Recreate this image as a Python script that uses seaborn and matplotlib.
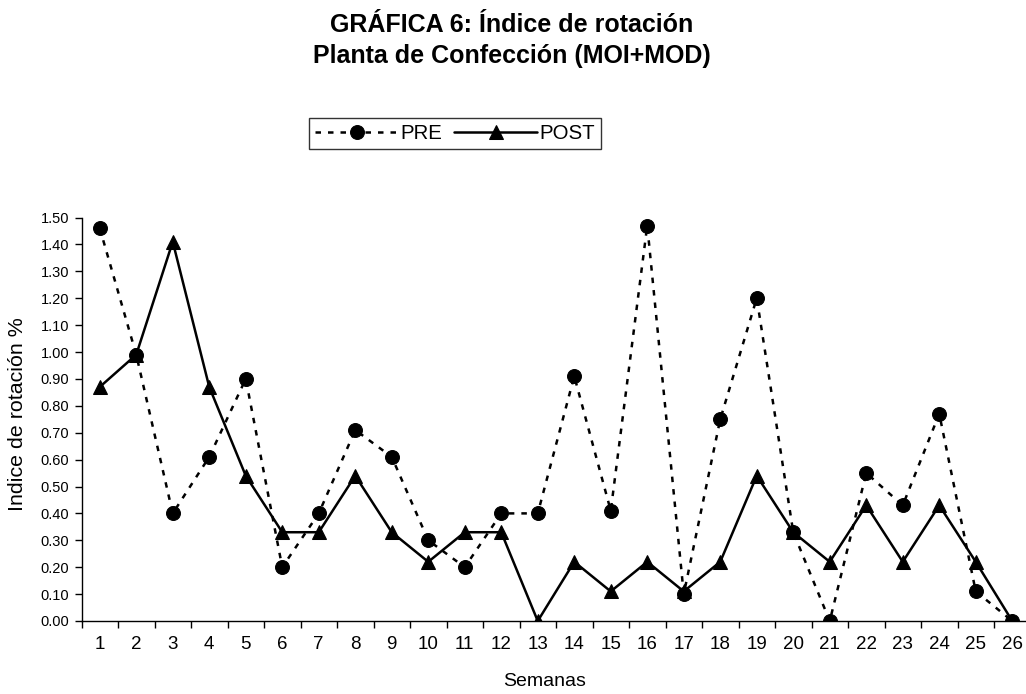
import matplotlib
matplotlib.use("Agg")
import matplotlib.pyplot as plt
import seaborn as sns
import pandas as pd
import numpy as np

semanas = list(range(1, 27))
pre = [1.46, 0.99, 0.40, 0.61, 0.90, 0.20, 0.40, 0.71, 0.61, 0.30, 0.20, 0.40, 0.40,
       0.91, 0.41, 1.47, 0.10, 0.75, 1.20, 0.33, 0.00, 0.55, 0.43, 0.77, 0.11, 0.00]
post = [0.87, 0.99, 1.41, 0.87, 0.54, 0.33, 0.33, 0.54, 0.33, 0.22, 0.33, 0.33, 0.00,
        0.22, 0.11, 0.22, 0.11, 0.22, 0.54, 0.33, 0.22, 0.43, 0.22, 0.43, 0.22, 0.00]
y_ticks = [round(0.1 * i, 2) for i in range(16)]

sns.set_theme(style="white")
plt.rcParams['font.family'] = ['Liberation Sans', 'DejaVu Sans']
plt.rcParams.update({"text.color": "black", "axes.labelcolor": "black",
                     "xtick.color": "black", "ytick.color": "black"})

W, H = 1026, 694
df = pd.DataFrame({"Semana": semanas * 2,
                   "Indice": pre + post,
                   "Serie": ["PRE"] * 26 + ["POST"] * 26})

fig = plt.figure(figsize=(W / 100, H / 100), dpi=100)
ax = fig.add_axes([81.5 / W, 1 - 621 / H, 949 / W, (621 - 217.5) / H])

sns.lineplot(data=df[df.Serie == "PRE"], x="Semana", y="Indice", ax=ax,
             color="black", linewidth=1.8, linestyle=(0, (2.2, 2.8)),
             marker="o", markersize=10, markeredgecolor="black", label="PRE")
sns.lineplot(data=df[df.Serie == "POST"], x="Semana", y="Indice", ax=ax,
             color="black", linewidth=1.8, linestyle="-",
             marker="^", markersize=10.5, markeredgecolor="black", label="POST")

ax.set_xlim(0.5, 26.5)
ax.set_ylim(0, 1.5)
ax.set_yticks(y_ticks)
ax.set_yticklabels([f"{v:.2f}" for v in y_ticks], fontsize=10.5)
ax.set_xticks(np.arange(0.5, 27, 1.0))
ax.set_xticklabels([])
ax.set_xticks(semanas, minor=True)
ax.set_xticklabels([str(s) for s in semanas], minor=True, fontsize=13.5)
ax.tick_params(axis="x", which="major", direction="out", length=5, width=1, color="black", bottom=True)
ax.tick_params(axis="x", which="minor", length=0, pad=11, bottom=True)
ax.tick_params(axis="y", direction="out", length=5, width=1, color="black", left=True, pad=4)

for s in ["top", "right"]:
    ax.spines[s].set_visible(False)
for s in ["left", "bottom"]:
    ax.spines[s].set_color("black")
    ax.spines[s].set_linewidth(1.0)

ax.set_xlabel("")
ax.set_ylabel("")
fig.text(545 / W, 1 - 681 / H, "Semanas", ha="center", va="center", fontsize=14)
fig.text(18 / W, 1 - 414 / H, "Indice de rotación %", ha="center", va="center",
         rotation=90, fontsize=15.4)
fig.text(512 / W, 1 - 32 / H, "GRÁFICA 6: Índice de rotación", ha="center", va="baseline",
         fontsize=18, fontweight="bold")
fig.text(512 / W, 1 - 63 / H, "Planta de Confección (MOI+MOD)", ha="center", va="baseline",
         fontsize=18, fontweight="bold")

leg = ax.legend(loc="center", bbox_to_anchor=(455 / W, 1 - 133.5 / H),
                bbox_transform=fig.transFigure, ncol=2, frameon=True, fancybox=False,
                fontsize=14.7, handlelength=4.1, handletextpad=0.1, columnspacing=0.55,
                borderpad=0.3, borderaxespad=0)
leg.get_frame().set_edgecolor("black")
leg.get_frame().set_linewidth(1.0)

fig.savefig("out.png", dpi=100)
